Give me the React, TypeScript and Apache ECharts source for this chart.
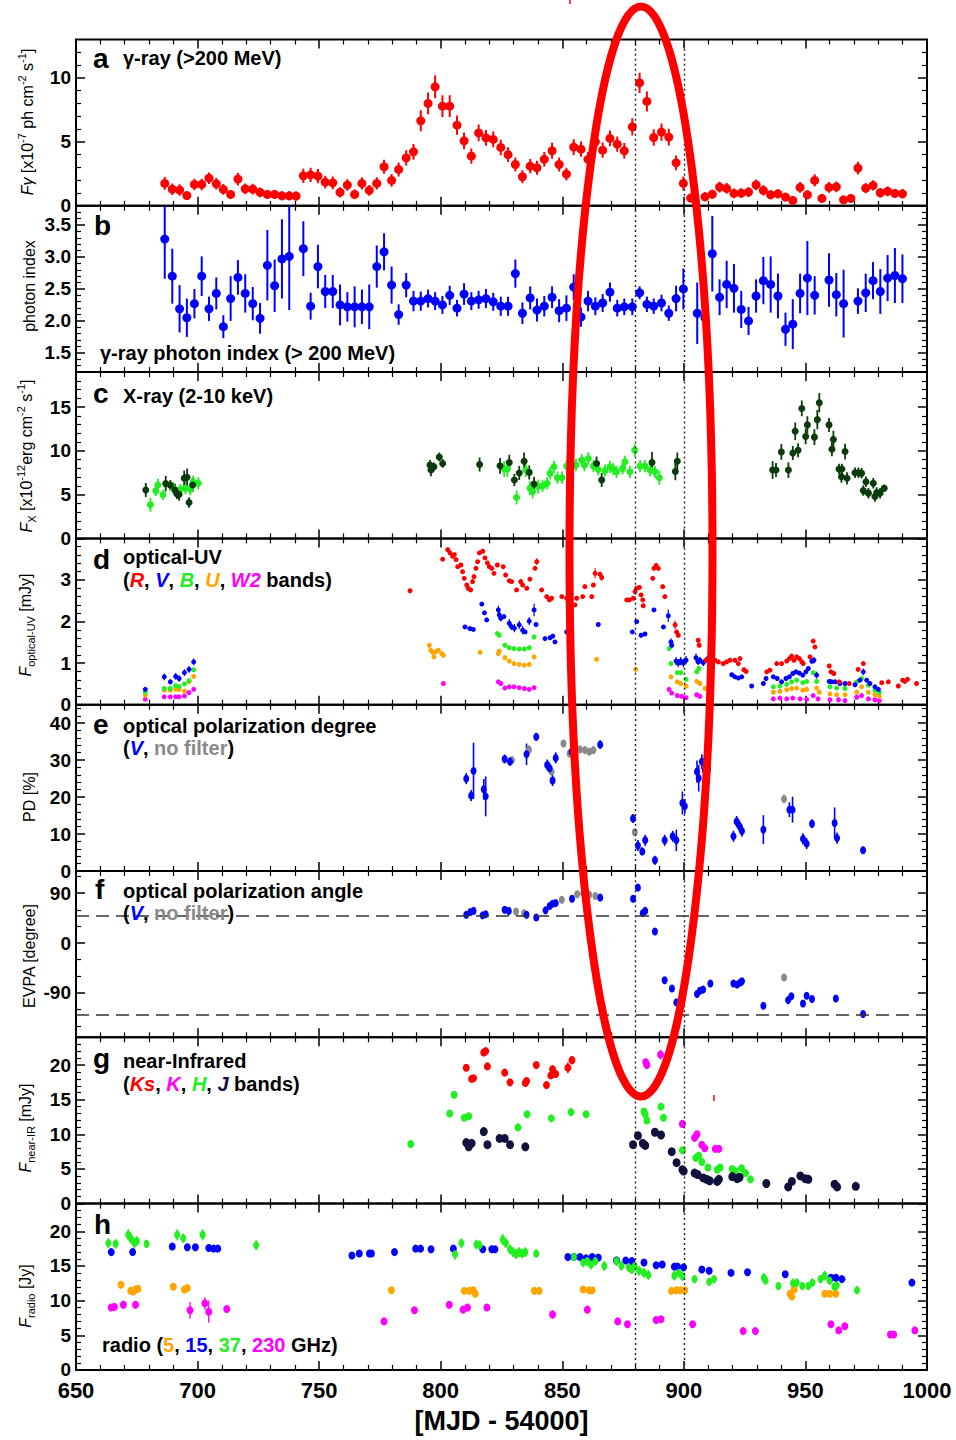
import React, { useEffect, useRef } from 'react';
import * as echarts from 'echarts';

// ---------------- axis / layout constants ----------------
const X_MIN = 650;
const X_MAX = 1000;
const X_INTERVAL = 50;
const markTimes = [880, 900];
const evpaRefLines = [50, -130];

const panelRanges = [[0, 13], [1.2, 3.8], [0, 19], [0, 4], [0, 45], [-170, 130], [0, 24], [0, 24]];
const majorTicks = [
  [0, 5, 10], [1.5, 2.0, 2.5, 3.0, 3.5], [0, 5, 10, 15], [0, 1, 2, 3],
  [0, 10, 20, 30, 40], [-90, 0, 90], [0, 5, 10, 15, 20], [0, 5, 10, 15, 20],
];
const minorSteps = [1, 0.1, 1, 0.2, 2, 30, 1, 1];

// ---------------- data: [MJD-54000, value, error] ----------------
const gammaFlux = [
  [686.5,1.75,0.5],[689.6,1.3,0.45],[692.6,1.23,0.45],[695.6,0.8,0.3],[698.7,1.67,0.45],[701.7,1.67,0.45],[704.7,2.16,0.45],[707.7,1.72,0.45],[710.6,1.28,0.42],[713.6,0.89,0.35],
  [716.6,2.09,0.5],[719.6,1.33,0.42],[722.7,1.3,0.42],[725.7,1.05,0.38],[728.7,0.89,0.35],[731.7,0.89,0.35],[734.7,0.78,0.35],[737.7,0.78,0.35],[740.5,0.76,0.35],[743.5,2.34,0.55],
  [746.5,2.42,0.55],[749.5,2.32,0.55],[752.5,1.85,0.5],[755.6,1.8,0.5],[758.6,1.05,0.4],[761.6,1.62,0.45],[764.6,0.89,0.38],[767.6,1.75,0.48],[770.6,1.2,0.42],[773.7,1.75,0.48],
  [776.7,3.05,0.55],[779.8,1.98,0.5],[782.7,2.84,0.55],[785.8,3.75,0.6],[788.8,4.22,0.62],[791.8,6.64,0.82],[794.8,8.0,0.85],[797.7,9.3,0.9],[800.7,7.79,0.85],[803.7,7.79,0.85],
  [806.7,6.3,0.75],[809.6,5.08,0.65],[812.6,3.88,0.6],[815.6,5.7,0.65],[818.6,5.31,0.62],[821.6,5.19,0.62],[824.7,4.56,0.6],[827.7,4.0,0.58],[830.7,3.23,0.55],[833.6,2.27,0.5],
  [836.8,3.1,0.55],[839.6,2.97,0.55],[842.6,3.63,0.58],[845.8,4.3,0.62],[848.7,3.23,0.55],[851.7,2.48,0.5],[854.7,4.59,0.62],[857.7,4.43,0.6],[860.6,3.63,0.58],[863.6,5.0,0.65],
  [866.6,4.35,0.6],[869.6,5.27,0.62],[872.6,4.82,0.6],[875.5,4.3,0.6],[878.8,6.17,0.68],[881.8,9.61,0.8],[884.8,8.16,0.78],[887.6,5.34,0.65],[890.8,5.76,0.68],[893.8,5.37,0.65],
  [896.8,3.36,0.58],[899.8,1.75,0.55],[902.8,0.6,0.35],[908.7,0.7,0.35],[911.7,0.91,0.35],[914.7,1.46,0.42],[917.6,1.36,0.42],[920.6,0.97,0.38],[923.6,0.99,0.38],[926.6,1.07,0.38],
  [929.7,1.64,0.42],[932.7,1.2,0.4],[935.7,0.86,0.35],[938.7,0.94,0.35],[941.8,0.68,0.32],[944.8,0.42,0.3],[947.8,1.44,0.42],[950.8,0.86,0.35],[953.8,1.98,0.48],[956.8,0.58,0.35],
  [959.7,1.44,0.42],[962.7,1.48,0.42],[965.7,0.47,0.3],[968.7,0.58,0.35],[971.6,2.95,0.5],[974.8,1.38,0.4],[977.8,1.59,0.4],[980.8,1.02,0.38],[983.8,1.13,0.38],[986.8,0.97,0.35],[989.9,0.94,0.35],
];

const photonIndex = [
  [686.5,3.28,0.62],[689.6,2.70,0.43],[692.6,2.19,0.37],[695.6,2.05,0.30],[698.7,2.27,0.23],[701.7,2.70,0.31],[704.7,2.19,0.19],[707.7,2.43,0.25],[710.6,1.91,0.18],[713.6,2.35,0.35],
  [716.6,2.68,0.27],[719.6,2.43,0.30],[722.7,2.27,0.26],[725.7,2.04,0.24],[728.7,2.87,0.55],[731.7,2.55,0.41],[734.7,2.97,0.62],[737.7,3.01,0.84],[743.5,3.13,0.43],[746.5,2.23,0.21],
  [749.5,2.85,0.34],[752.5,2.46,0.26],[755.6,2.46,0.26],[758.6,2.25,0.32],[761.6,2.22,0.23],[764.6,2.22,0.32],[767.6,2.22,0.27],[770.6,2.22,0.35],[773.7,2.85,0.33],[776.7,3.08,0.29],
  [779.8,2.56,0.29],[782.7,2.10,0.16],[785.8,2.56,0.19],[788.8,2.31,0.16],[791.8,2.31,0.15],[794.8,2.35,0.14],[797.7,2.31,0.14],[800.7,2.25,0.14],[803.7,2.40,0.15],[806.7,2.20,0.13],
  [809.6,2.42,0.17],[812.6,2.31,0.14],[815.6,2.33,0.14],[818.6,2.35,0.15],[821.6,2.30,0.14],[824.7,2.23,0.15],[827.7,2.23,0.15],[830.7,2.74,0.22],[833.6,2.12,0.17],[836.8,2.36,0.18],
  [839.6,2.17,0.18],[842.6,2.23,0.16],[845.8,2.37,0.17],[848.7,2.16,0.18],[851.7,2.20,0.2],[854.7,2.53,0.2],[857.7,2.06,0.15],[860.6,2.31,0.16],[863.6,2.23,0.14],[866.6,2.28,0.14],
  [869.6,2.45,0.15],[872.6,2.20,0.13],[875.5,2.22,0.13],[878.8,2.22,0.13],[881.8,2.44,0.1],[884.8,2.26,0.12],[887.6,2.23,0.12],[890.8,2.28,0.13],[893.8,2.12,0.12],[896.8,2.35,0.2],
  [899.8,2.50,0.32],[905.5,2.12,0.48],[908.7,2.05,0.45],[911.7,3.05,0.59],[914.7,2.37,0.28],[917.6,2.57,0.37],[920.6,2.51,0.38],[923.6,2.18,0.29],[926.6,2.00,0.22],[929.7,2.39,0.26],
  [932.7,2.63,0.37],[935.7,2.57,0.44],[938.7,2.39,0.35],[941.8,1.87,0.26],[944.8,1.95,0.39],[947.8,2.43,0.31],[950.8,2.67,0.58],[953.8,2.40,0.30],[959.7,2.64,0.42],[962.7,2.41,0.34],
  [965.7,2.27,0.53],[971.6,2.31,0.2],[974.8,2.44,0.30],[977.8,2.63,0.29],[980.8,2.46,0.35],[983.8,2.67,0.36],[986.8,2.71,0.43],[989.9,2.66,0.38],
];

const xrayDark = [
  [678.7,5.54,0.8],[686.9,6.26,0.9],[688.8,6.07,0.6],[690.7,5.54,0.7],[691.5,5.09,0.6],[692.4,5.01,0.7],[694.5,6.87,0.9],[695.7,6.98,1.0],[696.5,4.11,0.6],[698.0,6.11,0.8],
  [795.6,8.37,0.6],[796.0,7.81,0.7],[797.2,8.18,0.5],[799.4,9.31,0.5],[800.8,8.56,0.5],[816.0,8.45,0.8],[824.4,8.29,0.9],[828.2,8.67,0.9],[830.3,6.67,0.7],[832.3,7.47,0.8],
  [834.3,8.82,1.0],[836.4,7.54,0.8],[838.4,6.22,0.8],[864.1,8.56,0.8],[866.2,6.67,0.8],[886.9,8.67,1.2],[896.5,7.65,1.0],[897.3,8.82,1.0],
  [936.5,7.81,1.0],[937.9,7.81,0.8],[940.1,9.88,0.9],[943.0,7.81,0.9],[944.8,9.76,0.8],[945.8,12.25,1.0],[947.0,10.07,0.8],[948.5,14.85,0.9],[950.1,11.65,0.9],[950.8,12.97,1.0],
  [953.7,11.57,0.9],[954.9,13.57,1.1],[955.7,15.5,1.1],[959.7,12.97,0.8],[960.9,10.18,0.8],[961.5,11.31,1.0],[963.8,7.92,0.6],[964.8,7.05,0.7],[965.0,7.92,0.6],[966.3,9.92,0.9],
  [967.1,6.87,0.7],[970.4,7.50,0.6],[971.8,7.50,0.6],[973.1,7.43,0.6],[973.8,5.46,0.6],[974.9,6.48,0.6],[975.9,5.17,0.6],[977.9,6.30,0.6],[978.6,4.79,0.6],[979.3,5.24,0.6],[980.7,5.17,0.6],[982.4,5.74,0.4],
];

const xrayLight = [
  [680.6,3.85,0.8],[682.8,5.43,0.6],[683.7,6.11,0.7],[685.8,4.98,0.6],[690.0,5.74,0.7],[692.9,5.62,0.6],[695.0,5.74,0.7],[697.0,5.62,0.7],[698.2,6.48,0.7],[700.3,6.30,0.7],
  [826.1,7.95,0.9],[827.4,7.92,0.9],[831.2,4.67,0.8],[835.0,7.81,0.8],[836.7,5.74,0.8],[837.8,5.35,0.8],[840.1,5.92,0.8],[841.9,6.00,0.7],[843.8,6.30,0.7],[845.0,7.43,0.7],
  [846.6,8.18,0.7],[848.0,6.93,0.7],[849.9,6.93,0.7],[851.8,8.26,0.7],[855.6,8.37,0.7],[858.0,8.94,0.7],[859.1,8.37,0.7],[860.7,9.13,0.7],[862.8,8.26,0.7],[864.8,7.88,0.7],
  [867.6,7.73,0.7],[869.6,8.18,0.7],[871.0,7.92,0.7],[872.3,7.61,0.7],[874.8,8.0,0.7],[875.8,8.75,0.7],[877.8,7.61,0.7],[879.8,10.07,0.7],[882.0,8.26,0.7],[884.0,8.26,0.7],
  [886.1,7.81,0.7],[888.1,7.61,0.7],[889.9,6.93,0.8],
];

const optR = [
  [787.4,2.74,0.03],[800.8,3.50,0.03],[802.9,3.73,0.03],[803.8,3.65,0.03],[804.9,3.57,0.03],[805.6,3.61,0.03],[806.3,3.49,0.03],[807.0,3.32,0.03],[808.3,3.36,0.03],[809.0,3.20,0.03],
  [809.7,3.04,0.03],[810.7,2.88,0.03],[811.3,2.80,0.03],[812.3,2.76,0.03],[813.1,2.96,0.03],[813.7,3.08,0.03],[814.5,3.28,0.03],[815.2,3.44,0.03],[815.9,3.65,0.03],[817.3,3.69,0.03],
  [818.2,3.53,0.03],[819.2,3.41,0.03],[820.0,3.32,0.03],[821.0,3.28,0.03],[821.9,3.16,0.03],[823.3,3.36,0.03],[825.7,3.32,0.03],[826.7,3.12,0.03],[828.2,2.98,0.03],[829.2,2.96,0.03],
  [831.2,2.76,0.03],[832.9,2.96,0.06],[833.7,2.88,0.03],[835.4,2.80,0.03],[836.7,3.02,0.03],[838.8,3.28,0.04],[839.5,3.44,0.08],[841.5,2.76,0.03],[843.6,2.60,0.03],[844.7,2.52,0.03],
  [845.6,2.56,0.03],[849.8,2.60,0.03],[851.8,2.56,0.03],[855.2,2.40,0.03],[855.9,2.56,0.03],[858.4,2.60,0.03],[859.3,2.84,0.03],[862.1,2.60,0.03],[862.8,2.88,0.03],[863.5,3.16,0.12],
  [865.5,3.14,0.03],[866.2,3.06,0.08],[876.5,2.52,0.03],[877.6,2.52,0.03],[879.2,2.56,0.03],[879.9,2.72,0.03],[880.6,2.80,0.03],[881.7,2.82,0.03],[882.4,2.64,0.03],[883.1,2.52,0.03],
  [883.3,2.38,0.03],[887.2,3.04,0.03],[887.7,3.28,0.03],[888.6,3.35,0.03],[889.5,3.28,0.03],[891.3,2.84,0.03],[892.2,2.60,0.03],[896.4,1.92,0.1],[897.0,1.75,0.03],[897.7,1.67,0.03],
  [905.9,1.55,0.05],[906.3,1.43,0.03],[909.1,1.07,0.03],[910.7,1.07,0.03],[912.8,1.07,0.03],[914.2,1.03,0.03],[916.2,0.99,0.03],[917.6,1.03,0.03],[919.0,1.07,0.03],[921.0,1.07,0.03],
  [922.4,0.99,0.03],[923.1,1.11,0.03],[924.7,0.84,0.03],[925.6,0.80,0.03],[934.1,0.79,0.03],[935.4,0.83,0.03],[938.2,0.99,0.03],[940.2,0.99,0.03],[942.3,1.05,0.03],[943.4,1.11,0.03],
  [944.3,1.17,0.03],[945.3,1.07,0.03],[946.4,1.15,0.03],[947.5,1.11,0.03],[948.5,1.03,0.03],[949.1,0.99,0.03],[951.9,1.15,0.03],[953.2,1.53,0.03],[953.9,1.39,0.03],[959.8,0.93,0.05],
  [960.5,0.79,0.03],[961.7,0.75,0.03],[963.9,0.55,0.03],[968.0,0.51,0.03],[971.7,0.85,0.03],[973.8,0.99,0.03],[981.4,0.53,0.03],[984.1,0.55,0.05],[988.2,0.45,0.03],[990.0,0.59,0.03],
  [990.9,0.56,0.03],[992.0,0.61,0.03],[995.7,0.51,0.03],
];

const optV = [
  [678.5,0.37,0.05],[686.3,0.67,0.08],[688.8,0.55,0.06],[691.0,0.68,0.08],[692.4,0.63,0.08],[694.6,0.77,0.08],[696.5,0.85,0.08],[698.4,1.03,0.08],[810.0,1.87,0.02],[812.0,1.83,0.02],
  [813.4,1.81,0.02],[816.9,2.42,0.03],[818.0,2.21,0.03],[818.9,2.04,0.03],[823.7,2.28,0.1],[824.1,2.16,0.1],[824.7,2.08,0.08],[826.0,2.12,0.05],[828.2,1.96,0.1],[829.2,1.87,0.08],
  [830.3,1.84,0.1],[832.3,1.92,0.1],[833.7,1.79,0.1],[834.7,1.75,0.05],[836.4,2.01,0.1],[838.4,2.28,0.15],[839.2,1.93,0.03],[842.9,1.59,0.03],[845.0,1.61,0.03],[846.1,1.65,0.03],
  [847.0,1.51,0.03],[851.8,1.75,0.03],[864.8,1.93,0.03],[878.8,1.75,0.03],[880.6,2.0,0.03],[882.4,1.67,0.03],[884.0,1.70,0.03],[887.7,2.28,0.03],[891.6,1.87,0.03],[893.6,2.14,0.15],
  [894.7,1.51,0.08],[895.0,1.43,0.08],[896.8,1.05,0.1],[897.7,1.00,0.1],[898.7,1.05,0.1],[899.8,1.00,0.1],[900.9,1.07,0.1],[905.0,1.13,0.1],[905.9,1.03,0.08],[906.6,1.07,0.08],
  [908.0,1.01,0.08],[909.6,1.09,0.08],[919.7,0.72,0.03],[921.0,0.67,0.03],[922.4,0.64,0.03],[923.8,0.67,0.03],[927.9,0.45,0.03],[932.7,0.51,0.03],[933.8,0.63,0.03],[936.8,0.67,0.05],
  [938.4,0.63,0.05],[940.2,0.55,0.05],[942.0,0.63,0.05],[943.4,0.67,0.05],[944.8,0.75,0.05],[946.1,0.79,0.05],[947.5,0.76,0.05],[948.9,0.71,0.05],[950.2,0.79,0.05],[951.2,0.87,0.05],
  [952.6,1.05,0.08],[953.5,1.07,0.08],[954.6,0.71,0.08],[959.8,0.56,0.05],[960.8,0.55,0.05],[962.2,0.55,0.05],[964.2,0.51,0.05],[966.3,0.51,0.05],[970.4,0.48,0.05],[972.4,0.59,0.05],
  [973.8,0.79,0.08],[975.2,0.59,0.05],[976.5,0.51,0.05],[978.6,0.43,0.05],[980.0,0.37,0.05],
];

const optB = [
  [678.5,0.30,0.03],[686.3,0.39,0.03],[688.8,0.39,0.03],[691.0,0.46,0.03],[692.4,0.44,0.03],[694.6,0.50,0.03],[696.5,0.58,0.04],[698.4,0.84,0.04],[823.3,1.71,0.05],[824.1,1.67,0.05],
  [826.4,1.43,0.05],[828.2,1.37,0.05],[830.1,1.35,0.05],[832.3,1.34,0.05],[834.4,1.34,0.05],[836.4,1.37,0.05],[838.4,1.63,0.06],[893.9,1.35,0.05],[894.7,0.99,0.05],[897.3,0.77,0.05],
  [898.7,0.77,0.05],[900.9,0.61,0.05],[905.3,0.79,0.05],[906.2,0.87,0.05],[936.8,0.43,0.03],[939.5,0.45,0.03],[942.3,0.49,0.03],[944.3,0.55,0.03],[946.4,0.59,0.03],[948.9,0.53,0.03],
  [950.5,0.56,0.03],[953.2,0.77,0.05],[954.6,0.56,0.03],[960.1,0.43,0.03],[962.9,0.40,0.03],[966.3,0.39,0.03],[971.1,0.55,0.03],[973.1,0.63,0.03],[975.9,0.47,0.03],[978.6,0.35,0.03],[980.4,0.30,0.03],
];

const optU = [
  [678.5,0.23,0.02],[686.3,0.35,0.03],[688.8,0.35,0.03],[691.0,0.37,0.03],[692.4,0.37,0.03],[694.6,0.33,0.03],[696.5,0.55,0.04],[698.4,0.68,0.04],[795.3,1.43,0.05],[795.9,1.31,0.05],
  [796.7,1.26,0.05],[797.2,1.15,0.05],[797.9,1.27,0.05],[799.0,1.31,0.05],[800.4,1.23,0.05],[801.1,1.19,0.05],[816.2,1.26,0.03],[823.7,1.23,0.05],[824.1,1.29,0.05],[826.4,1.13,0.05],
  [828.2,1.05,0.05],[830.1,0.99,0.05],[832.3,0.97,0.05],[834.4,0.95,0.05],[836.4,0.97,0.05],[838.4,1.15,0.06],[864.1,1.09,0.03],[880.2,0.85,0.03],[894.7,0.67,0.04],[897.3,0.55,0.04],
  [898.7,0.51,0.04],[900.9,0.45,0.04],[905.3,0.56,0.04],[906.6,0.51,0.04],[908.7,0.39,0.04],[936.8,0.30,0.03],[939.5,0.32,0.03],[942.3,0.36,0.03],[944.3,0.39,0.03],[946.4,0.40,0.03],
  [948.9,0.35,0.03],[950.5,0.37,0.03],[954.6,0.40,0.03],[955.7,0.30,0.03],[960.1,0.26,0.03],[962.9,0.24,0.03],[966.3,0.24,0.03],[971.1,0.30,0.03],[973.1,0.43,0.03],[975.9,0.30,0.03],
  [978.6,0.24,0.03],[980.4,0.20,0.03],
];

const optW2 = [
  [678.5,0.13,0.02],[686.3,0.19,0.02],[688.8,0.19,0.02],[691.0,0.19,0.02],[692.4,0.19,0.02],[694.6,0.21,0.02],[696.5,0.29,0.02],[698.4,0.37,0.02],[801.1,0.51,0.02],[823.7,0.55,0.02],
  [824.7,0.51,0.02],[826.4,0.40,0.02],[828.2,0.43,0.02],[830.1,0.43,0.02],[832.3,0.41,0.02],[834.4,0.39,0.02],[836.4,0.37,0.02],[838.4,0.41,0.02],[893.9,0.37,0.02],[895.0,0.28,0.02],
  [897.3,0.22,0.02],[899.1,0.20,0.02],[900.9,0.17,0.02],[905.3,0.24,0.02],[906.6,0.20,0.02],[936.8,0.14,0.02],[939.5,0.16,0.02],[942.3,0.14,0.02],[944.8,0.16,0.02],[947.8,0.14,0.02],
  [950.5,0.13,0.02],[953.2,0.22,0.02],[955.2,0.14,0.02],[960.1,0.12,0.02],[963.6,0.12,0.02],[966.3,0.10,0.02],[971.1,0.18,0.02],[973.1,0.22,0.02],[975.9,0.14,0.02],[978.6,0.12,0.02],[980.4,0.10,0.02],
];

const pdV = [
  [810.5,25.0,1.5],[812.5,20.4,1.5],[813.5,27.1,7.6],[817.7,22.1,2.8],[818.5,20.2,5.4],[826.3,30.3,1.2],[828.5,29.6,1.2],[835.3,31.6,2.9],[839.3,36.3,1.0],[843.8,28.7,1.5],
  [844.8,27.8,1.5],[846.0,24.5,1.5],[847.3,30.6,1.5],[853.8,32.3,1.5],[865.6,34.2,1.2],[879.1,14.2,1.2],[881.1,6.9,1.5],[882.9,5.3,1.0],[884.1,8.3,1.5],[888.1,2.9,1.2],
  [892.1,8.3,1.5],[895.4,9.4,1.5],[896.9,8.3,2.9],[899.4,18.4,3.1],[900.4,17.5,2.0],[905.4,26.9,3.0],[906.1,25.1,3.6],[907.4,29.6,2.0],[908.6,27.3,1.5],[909.9,27.3,1.5],
  [920.4,9.4,1.5],[921.7,13.4,1.5],[922.9,12.1,1.5],[923.9,10.8,1.5],[932.7,11.2,3.9],[943.4,16.6,2.0],[944.7,16.6,3.5],[949.0,8.7,1.5],[950.5,7.4,1.5],[952.7,12.8,1.2],
  [962.0,13.0,4.2],[963.0,8.9,1.5],[973.7,5.6,1.0],
];
const pdNoFilter = [
  [829.3,30.0,1.0],[836.3,32.9,1.0],[845.6,26.9,1.0],[850.5,34.5,1.0],[853.0,31.8,1.0],[855.3,32.9,1.0],[857.3,32.9,1.0],[859.3,32.7,1.0],[861.1,32.3,1.0],[862.8,32.7,1.0],
  [879.8,10.5,1.0],[941.2,19.5,1.2],
];

const evpaV = [
  [810.5,51,3],[812.2,56,3],[813.5,58,3],[817.2,50,3],[818.5,52,3],[826.3,60,3],[828.0,58,3],[835.3,51,3],[839.3,46,3],[843.1,59,3],
  [844.8,67,3],[846.0,71,3],[847.3,72,3],[854.0,80,3],[865.6,82,3],[879.1,80,4],[881.1,100,5],[883.1,54,4],[884.1,58,4],[888.1,21,5],
  [892.1,-67,4],[895.1,-82,4],[896.9,-107,5],[905.4,-92,4],[906.6,-86,3],[907.9,-84,3],[910.9,-73,3],[920.4,-73,3],[921.9,-75,3],[923.2,-71,3],
  [923.9,-69,3],[932.7,-113,5],[942.9,-103,4],[944.2,-96,4],[949.0,-109,4],[950.5,-95,4],[952.7,-101,4],[962.5,-100,4],[973.7,-128,3],
];
const evpaNoFilter = [
  [831.0,57,2],[834.3,54,2],[849.8,78,2],[856.1,88,2],[858.6,90,2],[861.1,87,2],[863.6,85,2],[941.2,-62,3],
];

const nirKs = [
  [810.5,19.6,0.4],[812.7,18.0,0.5],[813.5,18.1,0.4],[817.7,21.8,0.4],[818.5,22.0,0.4],[819.2,19.8,0.5],[826.3,18.9,0.4],[828.5,17.5,0.4],[834.8,17.4,0.4],[835.3,17.7,0.4],
  [839.3,20.0,0.4],[843.5,17.1,0.4],[845.3,18.5,0.5],[846.0,19.4,0.6],[847.3,18.7,0.5],[852.3,19.6,0.8],[854.0,20.7,0.6],
];
const nirK = [
  [884.3,20.4,0.5],[884.8,20.0,0.5],[890.4,21.5,0.7],[899.4,11.5,0.4],[904.4,9.5,0.6],[905.4,10.0,0.4],[907.4,8.5,0.4],[908.6,8.0,0.4],[912.9,7.9,0.4],[914.4,7.9,0.4],
];
const nirH = [
  [787.7,8.6,0.3],[803.7,13.0,0.4],[805.5,15.7,0.4],[809.7,12.4,0.4],[811.5,12.6,0.4],[831.8,11.0,0.4],[835.5,12.9,0.4],[845.5,12.3,0.4],[853.6,13.2,0.4],[859.8,12.9,0.4],
  [883.6,13.3,0.4],[884.1,12.9,0.4],[884.8,12.0,0.4],[890.6,14.0,0.4],[891.6,12.4,0.4],[899.4,7.7,0.4],[904.9,6.6,0.4],[906.1,6.9,0.4],[907.4,6.0,0.4],[909.9,5.2,0.4],
  [913.7,4.9,0.4],[914.9,5.2,0.4],[919.9,5.0,0.4],[921.2,4.7,0.4],[923.7,5.1,0.4],[925.4,4.4,0.4],[927.4,3.5,0.4],
];
const nirJ = [
  [810.5,8.8,0.3],[811.5,8.2,0.3],[812.7,8.7,0.3],[817.7,10.4,0.3],[819.2,8.5,0.3],[824.2,9.4,0.3],[826.3,9.4,0.3],[828.5,8.5,0.3],[834.8,8.2,0.3],[879.1,8.5,0.3],
  [881.1,9.8,0.3],[883.1,8.7,0.3],[884.1,8.4,0.3],[888.1,10.3,0.3],[890.6,9.9,0.3],[895.0,7.5,0.3],[897.0,5.9,0.3],[899.4,4.9,0.3],[899.9,4.7,0.3],[904.4,4.4,0.3],
  [905.6,4.2,0.3],[907.9,3.7,0.3],[909.4,3.5,0.3],[910.6,3.3,0.3],[913.7,3.2,0.3],[914.4,3.5,0.3],[919.9,3.9,0.3],[921.9,3.6,0.3],[922.9,3.8,0.3],[933.9,2.9,0.3],
  [942.9,2.4,0.3],[944.4,3.2,0.3],[947.9,4.0,0.3],[949.9,3.6,0.3],[951.2,3.5,0.3],[962.0,2.8,0.3],[963.0,2.4,0.3],[970.7,2.5,0.3],
];

const radio5 = [
  [668.5,12.3,0.3],[672.5,11.4,0.3],[673.5,11.3,0.3],[674.5,11.6,0.3],[675.5,11.7,0.3],[690.0,12.0,0.3],[694.6,11.6,0.3],[695.8,11.8,0.3],[779.7,11.5,0.3],[809.7,11.4,0.3],
  [811.7,11.4,0.3],[813.4,11.5,0.3],[814.2,11.0,0.3],[838.5,11.4,0.3],[840.5,11.4,0.3],[858.6,11.6,0.3],[861.1,11.5,0.3],[862.3,11.5,0.3],[894.9,11.4,0.3],[896.9,11.5,0.3],
  [898.6,11.5,0.3],[900.4,11.5,0.3],[943.7,11.0,0.3],[944.4,10.6,0.3],[945.4,11.6,0.3],[958.0,11.0,0.3],[960.0,11.0,0.3],[962.5,11.0,0.3],
];
const radio15 = [
  [664.5,17.0,0.15],[673.3,17.0,0.15],[689.6,17.8,0.15],[695.8,17.7,0.15],[699.1,17.7,0.15],[704.6,17.6,0.15],[706.6,17.5,0.15],[708.3,17.5,0.15],[763.5,16.5,0.15],[766.5,16.8,0.15],
  [770.7,16.8,0.15],[771.5,16.8,0.15],[781.0,17.0,0.15],[789.7,17.5,0.15],[791.7,17.5,0.15],[796.0,17.4,0.15],[805.2,17.5,0.15],[817.3,17.4,0.15],[821.0,17.4,0.15],[822.3,17.4,0.15],
  [852.3,16.3,0.15],[854.8,16.3,0.15],[857.3,16.3,0.15],[859.8,16.1,0.15],[862.3,16.3,0.15],[864.8,16.2,0.15],[872.3,15.8,0.15],[876.1,15.8,0.15],[878.6,15.7,0.15],[883.6,15.5,0.15],
  [888.6,15.1,0.15],[891.1,15.2,0.15],[896.1,14.9,0.15],[897.4,14.9,0.15],[899.9,14.8,0.15],[907.4,14.5,0.15],[910.4,14.3,0.15],[919.4,14.0,0.15],[926.2,14.1,0.15],[941.7,13.8,0.15],
  [960.5,13.3,0.15],[962.5,13.3,0.15],[965.0,13.1,0.15],[993.8,12.6,0.15],
];
const radio37 = [
  [663.3,18.3,0.7],[666.3,18.2,0.7],[671.5,19.5,0.8],[672.5,19.0,0.8],[674.0,18.3,0.8],[675.0,18.6,0.7],[679.0,18.2,0.6],[691.6,19.5,0.8],[694.1,19.0,0.7],[702.1,19.5,0.8],
  [724.1,18.0,0.7],[805.9,16.7,0.8],[808.5,18.3,0.7],[814.7,18.1,0.7],[816.0,18.0,0.7],[825.5,18.8,0.8],[826.8,18.3,0.7],[828.5,17.4,0.7],[829.8,17.0,0.7],[831.0,16.7,0.7],
  [832.3,17.0,0.7],[833.5,16.8,0.7],[834.8,17.0,0.7],[839.3,16.8,0.6],[854.8,16.3,0.6],[858.6,15.5,0.7],[860.3,15.7,0.7],[861.8,15.2,0.7],[863.6,15.7,0.7],[867.3,15.0,0.7],
  [872.3,15.7,0.7],[874.3,15.0,0.7],[877.3,14.8,0.7],[878.6,14.5,0.7],[879.8,15.0,0.7],[881.6,14.3,0.7],[883.6,14.0,0.7],[885.4,13.7,0.7],[896.1,13.6,0.7],[897.9,14.0,0.7],
  [899.4,13.5,0.7],[904.4,13.1,0.6],[910.4,12.7,0.6],[912.4,13.1,0.6],[932.9,13.3,0.7],[933.6,12.9,0.6],[938.9,12.1,0.6],[944.9,12.5,0.7],[946.4,12.6,0.6],[948.7,12.1,0.6],
  [951.2,12.1,0.6],[952.9,12.6,0.6],[956.2,13.1,0.6],[957.9,13.6,0.7],[959.9,12.9,0.6],[961.9,12.0,0.6],[962.9,12.2,0.6],[971.2,11.5,0.6],
];
const radio230 = [
  [664.5,9.0,0.5],[665.8,9.1,0.5],[669.5,9.4,0.6],[674.5,9.4,0.5],[696.9,8.6,1.2],[703.0,9.6,0.9],[704.6,8.4,1.6],[712.0,8.8,0.5],[776.7,7.0,0.4],[789.2,8.6,0.4],
  [803.5,9.4,0.5],[809.2,8.7,0.4],[811.0,9.0,0.4],[819.0,9.0,0.4],[846.0,8.0,0.6],[860.3,8.7,0.5],[872.8,7.0,0.4],[876.8,6.6,0.4],[888.6,7.2,0.4],[890.6,7.3,0.4],
  [903.6,6.6,0.4],[924.4,5.6,0.3],[929.4,5.6,0.3],[960.5,6.6,0.4],[963.7,5.7,0.4],[966.2,6.3,0.5],[985.0,5.1,0.3],[986.3,5.1,0.3],[995.0,5.7,0.4],
];

// ---------------- styling ----------------
const FONT = '"Liberation Sans", Arial, Helvetica, sans-serif';
const COL = {
  red: '#ff0000', blue: '#0000ff', green: '#22ee22', orange: '#ffa500', magenta: '#ff00ff',
  gray: '#8a8a8a', dkgreen: '#0b3a0b', navy: '#11113d', black: '#000000',
};
const GRID_LEFT = 76;
const GRID_RIGHT = 29;
const TOP0 = 39.5;
const PANEL_H = 166.3;

function minorValues(i: number) {
  const [lo, hi] = panelRanges[i];
  const step = minorSteps[i];
  const majors = majorTicks[i];
  const out: number[] = [];
  const start = Math.ceil(lo / step - 1e-9);
  for (let k = start; k * step <= hi + 1e-9; k++) {
    const v = Math.round(k * step * 1000) / 1000;
    if (v <= lo + 1e-9 || v >= hi - 1e-9) continue;
    if (majors.some((m) => Math.abs(m - v) < 1e-6)) continue;
    out.push(v);
  }
  return out;
}

function font(size: number, weight = 'bold', style = 'normal') {
  return `${style} ${weight} ${size}px ${FONT}`;
}

function tok(size: number, color: string, opts: any = {}) {
  const weight = opts.weight || 'bold';
  const fstyle = opts.italic ? 'italic' : 'normal';
  return {
    fill: color, color, fontSize: size, fontWeight: weight, fontStyle: fstyle, fontFamily: FONT,
    font: font(size, weight, fstyle), lineHeight: opts.lineHeight, verticalAlign: opts.valign || 'middle',
  };
}

function textEl(x: number, y: number, text: string, opts: any = {}) {
  const size = opts.size || 20;
  const weight = opts.weight || 'bold';
  const align = opts.align || 'left';
  return {
    type: 'text', x, y, rotation: opts.rotation || 0, silent: true, z: 20,
    style: {
      text, x: 0, y: 0, fill: opts.color || '#000', fontSize: size, fontWeight: weight, fontFamily: FONT,
      font: font(size, weight), align, textAlign: align, verticalAlign: 'middle', textVerticalAlign: 'middle',
      rich: opts.rich,
    },
  };
}

const App = () => {
  const ref = useRef<HTMLDivElement>(null);

  useEffect(() => {
    document.body.style.margin = '0';
    if (!ref.current) return;
    const chart = echarts.init(ref.current, undefined, { renderer: 'svg' });

    const grids: any[] = [];
    const xAxes: any[] = [];
    const yAxes: any[] = [];
    for (let i = 0; i < 8; i++) {
      grids.push({
        left: GRID_LEFT, right: GRID_RIGHT, top: TOP0 + i * PANEL_H, height: PANEL_H,
        show: true, borderColor: '#000', borderWidth: 2, backgroundColor: 'transparent', outerBoundsMode: 'none',
      });
      for (const pos of ['bottom', 'top']) {
        xAxes.push({
          gridIndex: i, type: 'value', min: X_MIN, max: X_MAX, interval: X_INTERVAL, position: pos,
          axisLine: { show: false, onZero: false },
          axisTick: { show: true, inside: true, length: 9, lineStyle: { color: '#000', width: 1.5 } },
          minorTick: { show: true, splitNumber: 5, length: 5, lineStyle: { color: '#000', width: 1.2 } },
          splitLine: { show: false }, minorSplitLine: { show: false },
          axisLabel: {
            show: i === 7 && pos === 'bottom', color: '#000', fontSize: 22, fontWeight: 'bold', fontFamily: FONT, margin: 10,
            formatter: (v: number) => String(v),
          },
        });
      }
      const [lo, hi] = panelRanges[i];
      const majors = majorTicks[i];
      const minors = minorValues(i);
      for (const pos of ['left', 'right']) {
        yAxes.push({
          gridIndex: i, type: 'value', min: lo, max: hi, position: pos,
          axisLine: { show: false, onZero: false }, splitLine: { show: false },
          axisTick: { show: true, inside: true, length: 9, customValues: majors, lineStyle: { color: '#000', width: 1.5 } },
          axisLabel: {
            show: pos === 'left', customValues: majors, color: '#000', fontSize: 19, fontWeight: 'bold', fontFamily: FONT, margin: 5,
            formatter: (v: number) => (i === 1 ? v.toFixed(1) : String(v)),
          },
        });
        yAxes.push({
          gridIndex: i, type: 'value', min: lo, max: hi, position: pos,
          axisLine: { show: false, onZero: false }, splitLine: { show: false },
          axisTick: { show: true, inside: true, length: 5, customValues: minors, lineStyle: { color: '#000', width: 1.2 } },
          axisLabel: { show: false },
        });
      }
    }

    const series: any[] = [];
    const markLineFor = (gi: number) => {
      const data: any[] = markTimes.map((t) => ({ xAxis: t, lineStyle: { type: [2, 3], color: '#222', width: 1.4 } }));
      if (gi === 5) {
        evpaRefLines.forEach((v) => data.push({ yAxis: v, lineStyle: { type: [13, 7], color: '#333', width: 1.6 } }));
      }
      return { silent: true, symbol: ['none', 'none'], label: { show: false }, animation: false, data };
    };
    const hasMark: Record<number, boolean> = {};

    const addSet = (gi: number, data: number[][], color: string, size: any, errWidth = 1.6) => {
      const [lo, hi] = panelRanges[gi];
      series.push({
        type: 'custom', xAxisIndex: gi * 2, yAxisIndex: gi * 4, data, encode: { x: 0, y: 1 }, z: 2, silent: true, clip: true,
        renderItem: (_p: any, api: any) => {
          const x = api.value(0), y = api.value(1), e = api.value(2);
          if (!e) return null;
          const a = api.coord([x, Math.max(lo, y - e)]);
          const b = api.coord([x, Math.min(hi, y + e)]);
          return { type: 'line', shape: { x1: a[0], y1: a[1], x2: b[0], y2: b[1] }, style: { stroke: color, lineWidth: errWidth } };
        },
      });
      const s: any = {
        type: 'scatter', xAxisIndex: gi * 2, yAxisIndex: gi * 4, data: data.map((d) => [d[0], d[1]]),
        symbol: 'circle', symbolSize: size, itemStyle: { color, opacity: 1 }, z: 3, silent: true,
      };
      if (!hasMark[gi]) { s.markLine = markLineFor(gi); hasMark[gi] = true; }
      series.push(s);
    };

    addSet(0, gammaFlux, COL.red, 9, 2);
    addSet(1, photonIndex, COL.blue, 9, 2);
    addSet(2, xrayLight, COL.green, 7, 1.8);
    addSet(2, xrayDark, COL.dkgreen, 7, 1.8);
    addSet(3, optW2, COL.magenta, 5, 1.2);
    addSet(3, optU, COL.orange, 5, 1.2);
    addSet(3, optB, COL.green, 5, 1.2);
    addSet(3, optV, COL.blue, 5, 1.2);
    addSet(3, optR, COL.red, 5, 1.2);
    addSet(4, pdNoFilter, COL.gray, [6, 8], 1.6);
    addSet(4, pdV, COL.blue, [6, 8], 1.6);
    addSet(5, evpaNoFilter, COL.gray, [6, 8], 1.6);
    addSet(5, evpaV, COL.blue, [6, 8], 1.6);
    addSet(6, nirH, COL.green, [7, 8], 1.4);
    addSet(6, nirJ, COL.navy, [8, 9], 1.4);
    addSet(6, nirK, COL.magenta, [7, 8], 1.4);
    addSet(6, nirKs, COL.red, [7, 8], 1.4);
    addSet(7, radio5, COL.orange, [7, 8], 1.4);
    addSet(7, radio230, COL.magenta, [7, 8], 1.4);
    addSet(7, radio15, COL.blue, [7, 8], 1.4);
    addSet(7, radio37, COL.green, [6, 8], 1.6);

    const N = tok(20, '#000');
    const richLegend: any = {
      n: N,
      r: tok(20, COL.red, { italic: true }), v: tok(20, COL.blue, { italic: true }), b: tok(20, COL.green, { italic: true }),
      u: tok(20, COL.orange, { italic: true }), w: tok(20, COL.magenta, { italic: true }), m: tok(20, COL.magenta, { italic: true }),
      j: tok(20, COL.navy, { italic: true }), g: tok(20, COL.gray), o: tok(20, COL.orange),
      bl: tok(20, COL.blue), gr: tok(20, COL.green), mg: tok(20, COL.magenta),
    };
    const richAxis: any = {
      n: tok(16, '#000', { weight: 'normal', lineHeight: 22 }),
      it: tok(16, '#000', { weight: 'normal', italic: true, lineHeight: 22 }),
      sup: tok(11, '#000', { weight: 'normal', lineHeight: 12, valign: 'top' }),
      sub: tok(11, '#000', { weight: 'normal', lineHeight: 12, valign: 'bottom' }),
    };
    const R90 = Math.PI / 2;

    const graphics: any[] = [
      textEl(93, 58.5, 'a', { size: 28 }),
      textEl(94, 225.5, 'b', { size: 28 }),
      textEl(93, 393, 'c', { size: 28 }),
      textEl(93, 559, 'd', { size: 28 }),
      textEl(93, 724, 'e', { size: 28 }),
      textEl(95, 889, 'f', { size: 28 }),
      textEl(93, 1058, 'g', { size: 28 }),
      textEl(94, 1224, 'h', { size: 28 }),
      textEl(123, 58, 'γ-ray (>200 MeV)'),
      textEl(100, 352.5, 'γ-ray photon index (> 200 MeV)'),
      textEl(123, 395.5, 'X-ray (2-10 keV)'),
      textEl(123, 557, 'optical-UV'),
      textEl(123, 580, '{n|(}{r|R}{n|, }{v|V}{n|, }{b|B}{n|, }{u|U}{n|, }{w|W2}{n| bands)}', { rich: richLegend }),
      textEl(123, 726, 'optical polarization degree'),
      textEl(123, 748, '{n|(}{v|V}{n|, }{g|no filter}{n|)}', { rich: richLegend }),
      textEl(123, 891, 'optical polarization angle'),
      textEl(123, 913, '{n|(}{v|V}{n|, }{g|no filter}{n|)}', { rich: richLegend }),
      textEl(123, 1061, 'near-Infrared'),
      textEl(123, 1084, '{n|(}{r|Ks}{n|, }{m|K}{n|, }{b|H}{n|, }{j|J}{n| bands)}', { rich: richLegend }),
      textEl(102, 1345, '{n|radio (}{o|5}{n|, }{bl|15}{n|, }{gr|37}{n|, }{mg|230}{n| GHz)}', { rich: richLegend }),
      textEl(27, 122, '{it|Fγ}{n| [x10}{sup|-7}{n| ph cm}{sup|-2}{n| s}{sup|-1}{n|]}', { rotation: R90, align: 'center', rich: richAxis }),
      textEl(29, 286, '{n|photon index}', { rotation: R90, align: 'center', rich: richAxis }),
      textEl(26, 456, '{it|F}{sub|X}{n| [x10}{sup|-12}{n|erg cm}{sup|-2}{n| s}{sup|-1}{n|]}', { rotation: R90, align: 'center', rich: richAxis }),
      textEl(25, 625, '{it|F}{sub|optical-UV}{n| [mJy]}', { rotation: R90, align: 'center', rich: richAxis }),
      textEl(29, 797, '{n|PD [%]}', { rotation: R90, align: 'center', rich: richAxis }),
      textEl(29, 956, '{n|EVPA [degree]}', { rotation: R90, align: 'center', rich: richAxis }),
      textEl(25, 1128, '{it|F}{sub|near-IR}{n| [mJy]}', { rotation: R90, align: 'center', rich: richAxis }),
      textEl(25, 1296, '{it|F}{sub|radio}{n| [Jy]}', { rotation: R90, align: 'center', rich: richAxis }),
      textEl(501.5, 1421, '[MJD - 54000]', { size: 27, align: 'center' }),
      {
        type: 'ellipse', silent: true, z: 50,
        shape: { cx: 641, cy: 551.5, rx: 71.5, ry: 545 },
        style: { fill: 'none', stroke: '#ff0000', lineWidth: 8 },
      },
      { type: 'line', silent: true, z: 50, shape: { x1: 570, y1: 0, x2: 570, y2: 4 }, style: { stroke: '#ff0000', lineWidth: 1.5 } },
      { type: 'line', silent: true, z: 50, shape: { x1: 714, y1: 1095, x2: 714, y2: 1101 }, style: { stroke: '#ff0000', lineWidth: 1.5 } },
    ];

    chart.setOption({
      animation: false,
      grid: grids,
      xAxis: xAxes,
      yAxis: yAxes,
      series,
      graphic: { elements: graphics },
    });

    return () => chart.dispose();
  }, []);

  return <div ref={ref} style={{ width: 956, height: 1440, background: '#fff' }} />;
};

export default App;
